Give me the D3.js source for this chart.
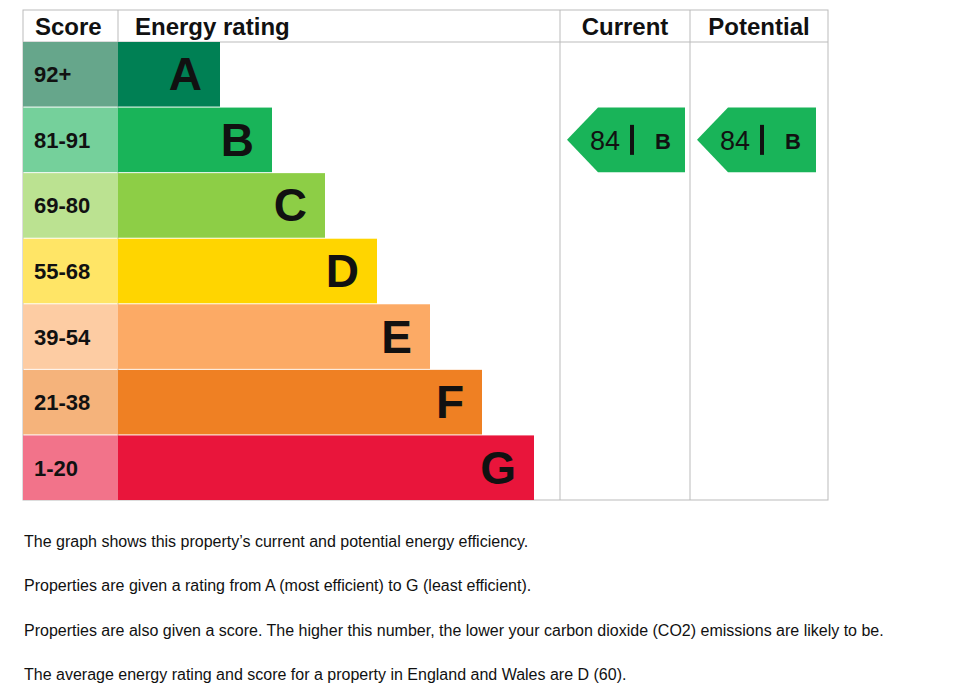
<!DOCTYPE html><html><head><meta charset="utf-8"><script src="https://cdn.jsdelivr.net/npm/d3@7"></script>
<style>body{margin:0;background:#fff}svg{font-family:"Liberation Sans",Arial,sans-serif}</style></head><body><script>
const bands=["A","B","C","D","E","F","G"];
const ranges=["92+","81-91","69-80","55-68","39-54","21-38","1-20"];
const barEnds=[220,272,325,377,430,482,534];
const colors=["#008054","#19b459","#8dce46","#ffd500","#fcaa65","#ef8023","#e9153b"];
const lightColors=["#66a68b","#75d09b","#bbe291","#ffe566","#fdcca3","#f5b37b","#f2738a"];
const current={score:84,band:"B"}, potential={score:84,band:"B"};
const notes=["The graph shows this property’s current and potential energy efficiency.",
"Properties are given a rating from A (most efficient) to G (least efficient).",
"Properties are also given a score. The higher this number, the lower your carbon dioxide (CO2) emissions are likely to be.",
"The average energy rating and score for a property in England and Wales are D (60)."];
const svg=d3.select("body").append("svg").attr("width",978).attr("height",698);
const y=d3.scaleBand().domain(bands).range([42,500]).paddingInner(0.015);
const L=23,S=118,C=560,P=690,R=828,T=10,H=42,B=500;
const g=svg.append("g");
// grid
g.append("rect").attr("x",L).attr("y",T).attr("width",R-L).attr("height",B-T).attr("fill","none").attr("stroke","#bbb");
g.append("line").attr("x1",L).attr("x2",R).attr("y1",H).attr("y2",H).attr("stroke","#bbb");
[S,C,P].forEach(x=>g.append("line").attr("x1",x).attr("x2",x).attr("y1",T).attr("y2",B).attr("stroke","#bbb"));
const hdr=[["Score",L+12,"start"],["Energy rating",S+17,"start"],["Current",(C+P)/2,"middle"],["Potential",(P+R)/2,"middle"]];
hdr.forEach(h=>g.append("text").attr("x",h[1]).attr("y",35).attr("text-anchor",h[2]).attr("font-size",24).attr("font-weight","bold").attr("fill","#111").text(h[0]));
bands.forEach((b,i)=>{
  const yy=y(b),h=y.bandwidth();
  g.append("rect").attr("x",L).attr("y",yy).attr("width",S-L).attr("height",h).attr("fill",lightColors[i]);
  g.append("rect").attr("x",S).attr("y",yy).attr("width",barEnds[i]-S).attr("height",h).attr("fill",colors[i]);
  g.append("text").attr("x",L+11).attr("y",yy+h/2+8).attr("font-size",22).attr("font-weight","bold").attr("fill","#111").text(ranges[i]);
  g.append("text").attr("x",barEnds[i]-18).attr("y",yy+h/2+16).attr("text-anchor","end").attr("font-size",46).attr("font-weight","bold").attr("fill","#111").text(b);
});
function arrow(x0,x1,d){
  const i=bands.indexOf(d.band),yy=y(d.band),h=y.bandwidth();
  const pts=[[x0,yy+h/2],[x0+31,yy],[x1,yy],[x1,yy+h],[x0+31,yy+h]];
  g.append("polygon").attr("points",pts.map(p=>p.join(",")).join(" ")).attr("fill",colors[i]);
  g.append("text").attr("x",x0+38).attr("y",yy+h/2+10).attr("text-anchor","middle").attr("font-size",27).attr("fill","#111").text(d.score);
  g.append("rect").attr("x",x0+63).attr("y",yy+h/2-15).attr("width",4).attr("height",30).attr("fill","#111");
  g.append("text").attr("x",x0+96).attr("y",yy+h/2+9).attr("text-anchor","middle").attr("font-size",22).attr("font-weight","bold").attr("fill","#111").text(d.band);
}
arrow(567,685,current);arrow(697,816,potential);
notes.forEach((t,i)=>svg.append("text").attr("x",24).attr("y",547+i*44.3).attr("font-size",16).attr("fill","#111").text(t));
</script></body></html>
